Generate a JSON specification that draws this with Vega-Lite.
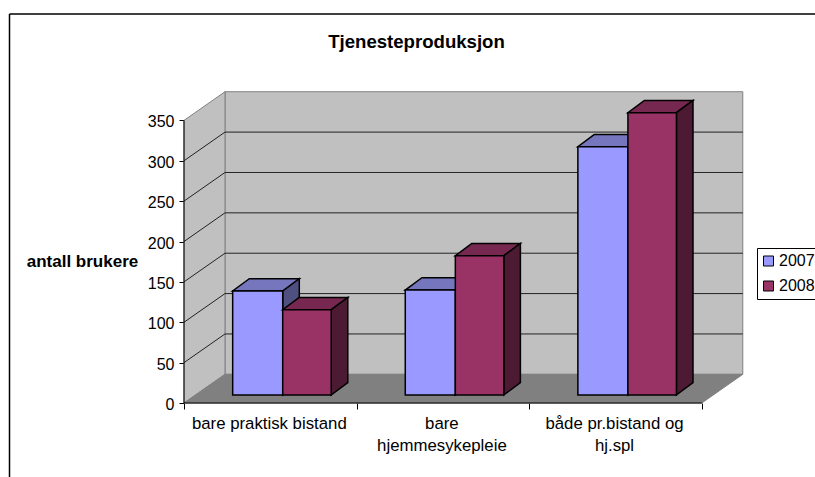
{
"$schema":"https://vega.github.io/schema/vega-lite/v6.json",
"width":559,"height":312,
"autosize":{"type":"none"},
"padding":{"left":184,"top":91,"right":72,"bottom":74},
"background":"white",
"config":{"font":"Liberation Sans","view":{"stroke":null}},
"title":{"text":"Tjenesteproduksjon","font":"Liberation Sans","fontSize":18.6,"fontWeight":"bold","color":"black","anchor":"middle","dx":-47,"offset":-38},
"datasets":{
"bars":[
{"category":"bare praktisk bistand","series":"2007","value":128.7,"x":0.282,"x2":0.572,"y":10,"y2":138.7},
{"category":"bare praktisk bistand","series":"2008","value":105.5,"x":0.572,"x2":0.853,"y":10,"y2":115.5},
{"category":"bare hjemmesykepleie","series":"2007","value":129.9,"x":1.282,"x2":1.572,"y":10,"y2":139.9},
{"category":"bare hjemmesykepleie","series":"2008","value":172.4,"x":1.572,"x2":1.853,"y":10,"y2":182.4},
{"category":"både pr.bistand og hj.spl","series":"2007","value":307.4,"x":2.282,"x2":2.572,"y":10,"y2":317.4},
{"category":"både pr.bistand og hj.spl","series":"2008","value":349.5,"x":2.572,"x2":2.853,"y":10,"y2":359.5}
],
"tops":[
{"bar":"a07","series":"2007","y":138.7,"x":0.282,"x2":0.572},{"bar":"a07","series":"2007","y":153.9,"x":0.378,"x2":0.668},
{"bar":"a08","series":"2008","y":115.5,"x":0.572,"x2":0.853},{"bar":"a08","series":"2008","y":130.7,"x":0.668,"x2":0.949},
{"bar":"b07","series":"2007","y":139.9,"x":1.282,"x2":1.572},{"bar":"b07","series":"2007","y":155.1,"x":1.378,"x2":1.668},
{"bar":"b08","series":"2008","y":182.4,"x":1.572,"x2":1.853},{"bar":"b08","series":"2008","y":197.6,"x":1.668,"x2":1.949},
{"bar":"c07","series":"2007","y":317.4,"x":2.282,"x2":2.572},{"bar":"c07","series":"2007","y":332.6,"x":2.378,"x2":2.668},
{"bar":"c08","series":"2008","y":359.5,"x":2.572,"x2":2.853},{"bar":"c08","series":"2008","y":374.7,"x":2.668,"x2":2.949}
],
"sides":[
{"bar":"a07","series":"2007","x":0.572,"y":10,"y2":138.7},{"bar":"a07","series":"2007","x":0.668,"y":25.2,"y2":153.9},
{"bar":"a08","series":"2008","x":0.853,"y":10,"y2":115.5},{"bar":"a08","series":"2008","x":0.949,"y":25.2,"y2":130.7},
{"bar":"b07","series":"2007","x":1.572,"y":10,"y2":139.9},{"bar":"b07","series":"2007","x":1.668,"y":25.2,"y2":155.1},
{"bar":"b08","series":"2008","x":1.853,"y":10,"y2":182.4},{"bar":"b08","series":"2008","x":1.949,"y":25.2,"y2":197.6},
{"bar":"c07","series":"2007","x":2.572,"y":10,"y2":317.4},{"bar":"c07","series":"2007","x":2.668,"y":25.2,"y2":332.6},
{"bar":"c08","series":"2008","x":2.853,"y":10,"y2":359.5},{"bar":"c08","series":"2008","x":2.949,"y":25.2,"y2":374.7}
],
"sidewall":[{"x":0,"y":0,"y2":350},{"x":0.2375,"y":35.5,"y2":385.5}],
"floor":[{"y":0,"x":0,"x2":3},{"y":35.5,"x":0.2375,"x2":3.2375}],
"backwall":[{"x":0.2375,"x2":3.2375,"y":35.5,"y2":385.5}],
"grid":[
{"x":0,"x2":0.2375,"y":50,"y2":85.5},{"x":0.2375,"x2":3.2375,"y":85.5,"y2":85.5},
{"x":0,"x2":0.2375,"y":100,"y2":135.5},{"x":0.2375,"x2":3.2375,"y":135.5,"y2":135.5},
{"x":0,"x2":0.2375,"y":150,"y2":185.5},{"x":0.2375,"x2":3.2375,"y":185.5,"y2":185.5},
{"x":0,"x2":0.2375,"y":200,"y2":235.5},{"x":0.2375,"x2":3.2375,"y":235.5,"y2":235.5},
{"x":0,"x2":0.2375,"y":250,"y2":285.5},{"x":0.2375,"x2":3.2375,"y":285.5,"y2":285.5},
{"x":0,"x2":0.2375,"y":300,"y2":335.5},{"x":0.2375,"x2":3.2375,"y":335.5,"y2":335.5}
],
"baselines":[{"x":0,"x2":3,"y":0,"y2":0},{"x":0,"x2":0,"y":0,"y2":350}],
"frame":[{"x":-1.011,"x2":-1.011,"y":-100,"y2":481.7},{"x":-1.011,"x2":3.8,"y":481.7,"y2":481.7}]
},
"encoding":{
"x":{"field":"x","type":"quantitative","title":null,"scale":{"domain":[0,3.2387],"nice":false,"zero":false},
"axis":{"values":[0,0.5,1,1.5,2,2.5,3],"grid":false,"domain":false,"tickSize":6,"tickColor":"black","tickOpacity":{"condition":{"test":"datum.value % 1 == 0","value":1},"value":0},"labelFont":"Liberation Sans","labelFontSize":16.8,"labelColor":"black","labelPadding":6,"labelOffset":-1.5,"labelAngle":0,"labelOverlap":false,"labelFlush":false,"labelBound":false,"labelLineHeight":22,"labelBaseline":"top","labelExpr":"datum.value == 0.5 ? 'bare praktisk bistand' : datum.value == 1.5 ? ['bare','hjemmesykepleie'] : datum.value == 2.5 ? ['både pr.bistand og','hj.spl'] : ''"}},
"y":{"field":"y","type":"quantitative","scale":{"domain":[0,386.4],"nice":false,"zero":false},
"axis":{"values":[0,50,100,150,200,250,300,350],"grid":false,"domain":false,"tickSize":5,"tickColor":"black","labelFont":"Liberation Sans","labelFontSize":16,"labelColor":"black","labelPadding":5,"labelOffset":1.5,"title":"antall brukere","titleFont":"Liberation Sans","titleFontSize":17,"titleFontWeight":"bold","titleColor":"black","titleAngle":0,"titleAlign":"center","titleBaseline":"middle","titleX":-102,"titleY":170}}
},
"layer":[
{"data":{"name":"frame"},"mark":{"type":"rule","stroke":"black","strokeWidth":1.5,"clip":false},"encoding":{"x2":{"field":"x2"},"y2":{"field":"y2"}}},
{"data":{"name":"backwall"},"mark":{"type":"rect","fill":"#C0C0C0","stroke":"#808080","strokeWidth":1},"encoding":{"x2":{"field":"x2"},"y2":{"field":"y2"}}},
{"data":{"name":"sidewall"},"mark":{"type":"area","fill":"#C0C0C0","stroke":"#808080","strokeWidth":1},"encoding":{"y2":{"field":"y2"}}},
{"data":{"name":"floor"},"mark":{"type":"area","orient":"horizontal","fill":"#808080","stroke":"#808080","strokeWidth":1},"encoding":{"x2":{"field":"x2"}}},
{"data":{"name":"grid"},"mark":{"type":"rule","stroke":"#222222","strokeWidth":1},"encoding":{"x2":{"field":"x2"},"y2":{"field":"y2"}}},
{"data":{"name":"baselines"},"mark":{"type":"rule","stroke":"black","strokeWidth":1},"encoding":{"x2":{"field":"x2"},"y2":{"field":"y2"}}},
{"data":{"name":"tops"},"transform":[{"filter":"datum.series == '2007'"}],"mark":{"type":"area","orient":"horizontal","fill":"#7676BF","stroke":"black","strokeWidth":1.5},"encoding":{"x2":{"field":"x2"},"detail":{"field":"bar"}}},
{"data":{"name":"sides"},"transform":[{"filter":"datum.series == '2007'"}],"mark":{"type":"area","fill":"#4F4F80","stroke":"black","strokeWidth":1.5},"encoding":{"y2":{"field":"y2"},"detail":{"field":"bar"}}},
{"data":{"name":"bars"},"transform":[{"filter":"datum.series == '2007'"}],"mark":{"type":"rect","stroke":"black","strokeWidth":1.5},"encoding":{"x2":{"field":"x2"},"y2":{"field":"y2"},"color":{"field":"series","type":"nominal","scale":{"domain":["2007","2008"],"range":["#9999FF","#993366"]},"legend":{"title":null,"orient":"none","legendX":573,"legendY":157,"symbolType":"square","symbolSize":100,"symbolStrokeColor":"black","symbolStrokeWidth":1,"symbolOffset":-1.5,"labelFont":"Liberation Sans","labelFontSize":16,"labelColor":"black","labelOffset":2.5,"strokeColor":"black","fillColor":"white","padding":5,"rowPadding":9,"labelLimit":200}}}},
{"data":{"name":"tops"},"transform":[{"filter":"datum.series == '2008'"}],"mark":{"type":"area","orient":"horizontal","fill":"#772850","stroke":"black","strokeWidth":1.5},"encoding":{"x2":{"field":"x2"},"detail":{"field":"bar"}}},
{"data":{"name":"sides"},"transform":[{"filter":"datum.series == '2008'"}],"mark":{"type":"area","fill":"#4D1A33","stroke":"black","strokeWidth":1.5},"encoding":{"y2":{"field":"y2"},"detail":{"field":"bar"}}},
{"data":{"name":"bars"},"transform":[{"filter":"datum.series == '2008'"}],"mark":{"type":"rect","stroke":"black","strokeWidth":1.5},"encoding":{"x2":{"field":"x2"},"y2":{"field":"y2"},"color":{"field":"series","type":"nominal"}}}
]
}
